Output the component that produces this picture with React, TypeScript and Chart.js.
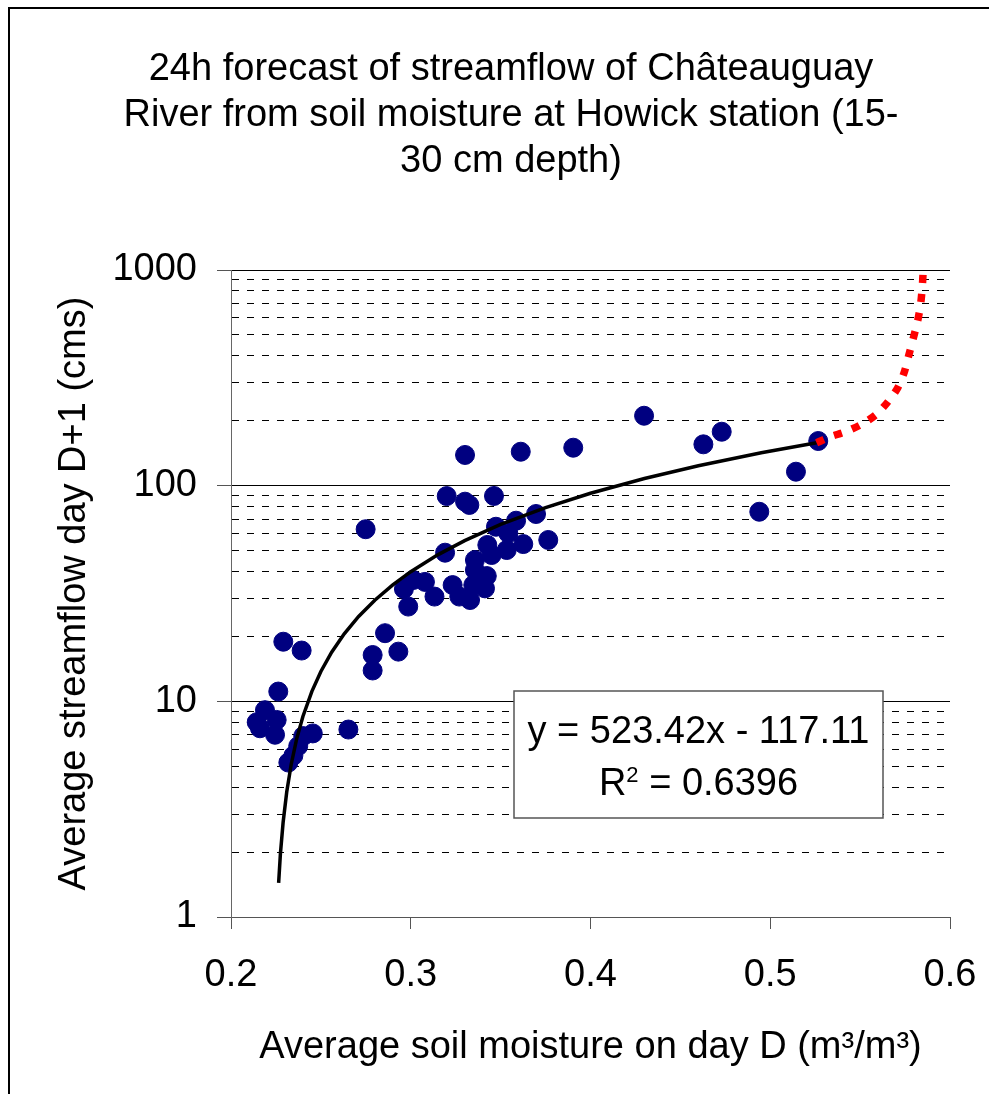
import React, { useEffect, useRef } from 'react';
import { Chart, registerables } from 'chart.js';

Chart.register(...registerables);

// ---- Data ----
const soilMoisture = [
  0.2291, 0.2393, 0.2263, 0.2189, 0.2143, 0.2161, 0.2254, 0.2245, 0.2455, 0.2653,
  0.2402, 0.2374, 0.2347, 0.2319, 0.2857, 0.2931, 0.2788, 0.2788, 0.2986, 0.2749,
  0.3013, 0.3079, 0.2962, 0.3132, 0.3191, 0.3200, 0.3302, 0.3612, 0.3302, 0.3326,
  0.3463, 0.3697, 0.3586, 0.3474, 0.3543, 0.3765, 0.3626, 0.3534, 0.3426, 0.3450,
  0.3357, 0.3423, 0.3357, 0.3233, 0.3413, 0.3330, 0.3270, 0.3348,
  0.3904, 0.4298, 0.4628, 0.4730, 0.5143, 0.5267, 0.4939,
];
const streamflow = [
  18.9, 17.2, 11.1, 9.1, 8.0, 7.5, 8.2, 7.0, 7.1, 7.4,
  6.9, 6.2, 5.6, 5.2, 20.7, 17.0, 16.4, 13.9, 27.5, 62.8,
  36.5, 35.8, 33.2, 30.6, 48.9, 89.5, 138.8, 143.7, 84.3, 81.4,
  89.6, 73.9, 68.8, 64.5, 60.1, 56.0, 53.6, 50.3, 53.1, 47.7,
  45.2, 38.1, 40.6, 34.6, 33.4, 29.5, 30.6, 34.6,
  150.0, 211.0, 155.5, 177.9, 116.1, 161.1, 75.7,
];

// Linear trend line (y = 523.42x - 117.11) as drawn in the picture
const trendMoisture = [
  0.2265, 0.2275, 0.229, 0.231, 0.2335, 0.2365, 0.24, 0.245, 0.25, 0.256,
  0.263, 0.271, 0.28, 0.29, 0.3, 0.315, 0.33, 0.35, 0.375, 0.4,
  0.43, 0.46, 0.495, 0.5258,
];
const trendFlow = [
  1.44, 1.97, 2.75, 3.8, 5.11, 6.68, 8.51, 11.13, 13.75, 16.89,
  20.55, 24.74, 29.45, 34.68, 39.92, 47.77, 55.62, 66.09, 79.17, 92.26,
  107.96, 123.66, 141.98, 158.11,
];

// Red dotted extension
const extMoisture = [
  0.5258, 0.533, 0.542, 0.551, 0.559, 0.5655, 0.571, 0.5745, 0.577, 0.5795,
  0.582, 0.5837, 0.5846, 0.585,
];
const extFlow = [
  158, 168, 178, 193, 214, 245, 285, 335, 400, 480,
  580, 700, 840, 960,
];

const xTickValues = [0.2, 0.3, 0.4, 0.5, 0.6];
const xTickLabels = ['0.2', '0.3', '0.4', '0.5', '0.6'];
const yTickValues = [
  1, 2, 3, 4, 5, 6, 7, 8, 9,
  10, 20, 30, 40, 50, 60, 70, 80, 90,
  100, 200, 300, 400, 500, 600, 700, 800, 900,
  1000,
];
const yMajorTicks = [1, 10, 100, 1000];
const yTickLabels = ['1', '10', '100', '1000'];

const titleLines = [
  '24h forecast of streamflow of Châteauguay',
  'River from soil moisture at Howick station (15-',
  '30 cm depth)',
];
const xAxisTitle = 'Average soil moisture on day D (m³/m³)';
const yAxisTitle = 'Average streamflow day D+1 (cms)';
const equationText = 'y = 523.42x - 117.11';
const r2Value = '0.6396';

const FONT = '"Liberation Sans", Arial, Helvetica, sans-serif';

const isMajorValue = (v: number) => yMajorTicks.indexOf(v) >= 0;

const decorPlugin = {
  id: 'decor',
  beforeDraw(chart: any) {
    const ctx = chart.ctx as CanvasRenderingContext2D;
    ctx.save();
    ctx.fillStyle = '#000';
    ctx.fillRect(8, 7, chart.width - 8, 2);
    ctx.fillRect(8, 7, 2, chart.height - 7);
    ctx.font = `38px ${FONT}`;
    ctx.textAlign = 'center';
    ctx.textBaseline = 'alphabetic';
    titleLines.forEach((t, i) => ctx.fillText(t, 511, 80 + i * 46));
    ctx.restore();
  },
  afterDraw(chart: any) {
    const ctx = chart.ctx as CanvasRenderingContext2D;
    const ca = chart.chartArea;
    const bx = ca.left + 283;
    const by = ca.top + 421;
    const bw = 369;
    const bh = 127;
    ctx.save();
    ctx.fillStyle = '#fff';
    ctx.fillRect(bx, by, bw, bh);
    ctx.strokeStyle = '#555';
    ctx.lineWidth = 1.5;
    ctx.strokeRect(bx, by, bw, bh);
    const cx = bx + bw / 2;
    ctx.fillStyle = '#000';
    ctx.font = `38px ${FONT}`;
    ctx.textBaseline = 'alphabetic';
    ctx.textAlign = 'center';
    ctx.fillText(equationText, cx, by + 52);
    // R² line
    const base = by + 104;
    const partR = 'R';
    const partRest = ' = ' + r2Value;
    ctx.font = `38px ${FONT}`;
    const wR = ctx.measureText(partR).width;
    const wRest = ctx.measureText(partRest).width;
    ctx.font = `22px ${FONT}`;
    const w2 = ctx.measureText('2').width;
    const total = wR + w2 + wRest;
    let x = cx - total / 2;
    ctx.textAlign = 'left';
    ctx.font = `38px ${FONT}`;
    ctx.fillText(partR, x, base);
    x += wR;
    ctx.font = `22px ${FONT}`;
    ctx.fillText('2', x, base - 13);
    x += w2;
    ctx.font = `38px ${FONT}`;
    ctx.fillText(partRest, x, base);
    ctx.restore();
  },
};

export default function App() {
  const canvasRef = useRef<HTMLCanvasElement | null>(null);

  useEffect(() => {
    document.body.style.margin = '0';
    document.body.style.overflow = 'hidden';
    const canvas = canvasRef.current;
    if (!canvas) return;
    Chart.defaults.font.family = FONT;
    Chart.defaults.color = '#000';

    const scatterData = soilMoisture.map((x, i) => ({ x, y: streamflow[i] }));
    const trendData = trendMoisture.map((x, i) => ({ x, y: trendFlow[i] }));
    const extData = extMoisture.map((x, i) => ({ x, y: extFlow[i] }));

    const chart = new Chart(canvas, {
      type: 'scatter',
      data: {
        datasets: [
          {
            label: 'Extension',
            data: extData,
            showLine: true,
            borderColor: '#ff0000',
            borderWidth: 7.5,
            borderDash: [8, 11],
            borderCapStyle: 'butt',
            pointRadius: 0,
            tension: 0.3,
            order: 1,
          },
          {
            label: 'Linear trend',
            data: trendData,
            showLine: true,
            borderColor: '#000',
            borderWidth: 3.5,
            pointRadius: 0,
            tension: 0,
            order: 2,
          },
          {
            label: 'Observations',
            data: scatterData,
            backgroundColor: '#000080',
            borderColor: '#000080',
            borderWidth: 1,
            pointRadius: 9.5,
            pointHoverRadius: 9.5,
            order: 3,
          },
        ],
      },
      options: {
        responsive: false,
        animation: false,
        devicePixelRatio: 1,
        layout: { padding: { top: 270, right: 39, bottom: 0, left: 0 } },
        plugins: {
          legend: { display: false },
          title: { display: false },
          tooltip: { enabled: false },
        },
        scales: {
          x: {
            type: 'linear',
            min: 0.2,
            max: 0.6,
            afterBuildTicks: (scale: any) => {
              scale.ticks = xTickValues.map((v) => ({ value: v }));
            },
            afterFit: (scale: any) => {
              scale.height = 177;
            },
            grid: {
              drawOnChartArea: false,
              drawTicks: true,
              tickLength: 12,
              tickColor: '#555',
              lineWidth: 1,
            },
            border: { display: true, color: '#555', width: 1 },
            ticks: {
              padding: 0,
              font: { size: 38, lineHeight: '94px' },
              color: '#000',
              maxRotation: 0,
              autoSkip: false,
              callback: (_v: any, i: number) => xTickLabels[i],
            },
            title: {
              display: true,
              text: xAxisTitle,
              font: { size: 38 },
              color: '#000',
              padding: { top: 0, bottom: 24 },
            },
          },
          y: {
            type: 'logarithmic',
            min: 1,
            max: 1000,
            afterBuildTicks: (scale: any) => {
              scale.ticks = yTickValues.map((v) => ({ value: v, major: isMajorValue(v) }));
            },
            afterFit: (scale: any) => {
              scale.width = 231;
            },
            grid: {
              color: '#000',
              lineWidth: 1,
              drawTicks: true,
              tickLength: 14,
              tickColor: (c: any) =>
                c.tick && isMajorValue(c.tick.value) ? '#555' : 'rgba(0,0,0,0)',
            },
            border: {
              display: true,
              color: '#666',
              width: 1,
              dash: (c: any) =>
                c.tick && !isMajorValue(c.tick.value) ? [7, 8] : [],
            },
            ticks: {
              padding: 20,
              font: { size: 38 },
              color: '#000',
              autoSkip: false,
              callback: (v: any) => {
                const idx = yMajorTicks.indexOf(Number(v));
                return idx >= 0 ? yTickLabels[idx] : '';
              },
            },
            title: {
              display: true,
              text: yAxisTitle,
              font: { size: 38 },
              color: '#000',
              padding: { top: 52, bottom: 0 },
            },
          },
        },
      },
      plugins: [decorPlugin],
    } as any);

    return () => {
      chart.destroy();
    };
  }, []);

  return (
    <div style={{ position: 'fixed', left: 0, top: 0, width: 989, height: 1094, background: '#fff' }}>
      <canvas ref={canvasRef} width={989} height={1094} style={{ display: 'block' }} />
    </div>
  );
}
